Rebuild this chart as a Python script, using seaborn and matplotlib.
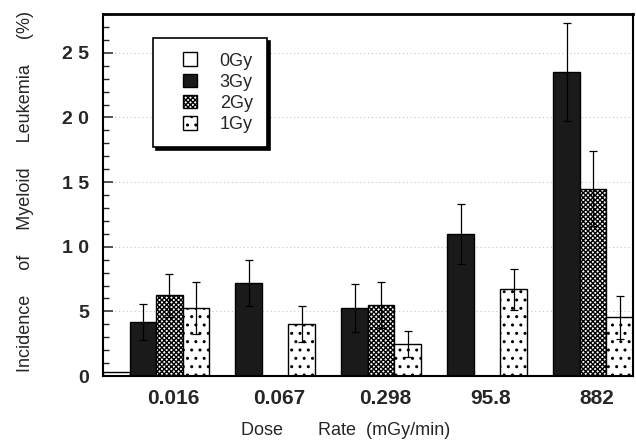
import numpy as np
import pandas as pd
import matplotlib
matplotlib.use("Agg")
import matplotlib.pyplot as plt
import seaborn as sns
from matplotlib.patches import Patch, Rectangle
from matplotlib.legend_handler import HandlerPatch
from matplotlib.ticker import MultipleLocator, FixedLocator

# Dose rate groups (mGy/min) and total dose levels
dose_rates = ["0.016", "0.067", "0.298", "95.8", "882"]
doses = ["0Gy", "3Gy", "2Gy", "1Gy"]

# Incidence of myeloid leukemia (%) per total dose, one value per dose rate
inc_0gy = [0.3, 0.0, 0.0, 0.0, 0.0]
inc_3gy = [4.2, 7.2, 5.25, 11.0, 23.5]
inc_2gy = [6.25, 0.0, 5.5, 0.0, 14.5]
inc_1gy = [5.25, 4.0, 2.5, 6.7, 4.55]

# Standard errors
err_0gy = [0.0, 0.0, 0.0, 0.0, 0.0]
err_3gy = [1.4, 1.75, 1.85, 2.3, 3.8]
err_2gy = [1.65, 0.0, 1.8, 0.0, 2.9]
err_1gy = [2.0, 1.4, 1.0, 1.6, 1.65]

y_ticks = [0, 5, 10, 15, 20, 25]
y_tick_labels = ["0", "5", "1 0", "1 5", "2 0", "2 5"]

values = {"0Gy": inc_0gy, "3Gy": inc_3gy, "2Gy": inc_2gy, "1Gy": inc_1gy}
errors = {"0Gy": err_0gy, "3Gy": err_3gy, "2Gy": err_2gy, "1Gy": err_1gy}

df = pd.DataFrame(
    [(r, d, values[d][i], errors[d][i])
     for d in doses for i, r in enumerate(dose_rates)],
    columns=["rate", "dose", "incidence", "err"],
)

sns.set_style("ticks")
plt.rcParams["font.family"] = ["Liberation Sans", "DejaVu Sans"]
plt.rcParams["hatch.linewidth"] = 1.0

face = {"0Gy": "white", "3Gy": "#1a1a1a", "2Gy": "white", "1Gy": "white"}
hatch = {"0Gy": None, "3Gy": None, "2Gy": "xxxxxxx", "1Gy": ".."}

fig = plt.figure(figsize=(6.36, 4.45), dpi=100)
ax = fig.add_axes([0.162, 0.155, 0.833, 0.8135])

sns.barplot(
    data=df, x="rate", y="incidence", hue="dose",
    order=dose_rates, hue_order=doses,
    palette=face, saturation=1, width=1.0, gap=0,
    edgecolor="black", linewidth=1.0, errorbar=None,
    legend=False, ax=ax,
)

# hatching and error bars per dose level
for cont, d in zip(ax.containers, doses):
    for bar, e in zip(cont, errors[d]):
        if hatch[d]:
            bar.set_hatch(hatch[d])
        bar.set_edgecolor("black")
        if e > 0:
            xc = bar.get_x() + bar.get_width() / 2
            ax.errorbar(xc, bar.get_height(), yerr=e, fmt="none",
                        ecolor="black", elinewidth=0.9, capsize=3,
                        capthick=0.9, zorder=4)

ax.set_xlim(-0.5, len(dose_rates) - 0.5)
ax.set_ylim(0, 28)

# axes styling
for sp in ax.spines.values():
    sp.set_visible(True)
    sp.set_linewidth(1.5)
    sp.set_color("black")
ax.spines["top"].set_linewidth(2.0)

ax.yaxis.set_major_locator(FixedLocator(y_ticks))
ax.set_yticklabels(y_tick_labels, fontsize=14, fontweight="bold")
ax.yaxis.set_minor_locator(MultipleLocator(1))
ax.tick_params(axis="y", which="major", direction="in", length=7, width=1.1, pad=10)
ax.tick_params(axis="y", which="minor", direction="in", length=4, width=1.0)

ax.set_xticks(np.arange(len(dose_rates)) + 0.16)
ax.set_xticklabels(dose_rates, fontsize=15, fontweight="bold")
ax.tick_params(axis="x", length=0, pad=9)

ax.yaxis.grid(True, which="major", linestyle=(0, (1, 2.5)), color="#c4c4c4", linewidth=0.8)
ax.set_axisbelow(True)

ax.set_ylabel("Incidence     of     Myeloid     Leukemia     (%)", fontsize=13)
ax.yaxis.set_label_coords(-0.13, 0.51)
ax.set_xlabel("Dose       Rate  (mGy/min)", fontsize=13)
ax.xaxis.set_label_coords(0.457, -0.128)


class SquareRight(HandlerPatch):
    """Square swatch placed at the right end of the handle box."""
    def create_artists(self, legend, orig_handle, xdescent, ydescent,
                       width, height, fontsize, trans):
        side = height
        p = Rectangle((width - side - xdescent, -ydescent), side, side,
                      facecolor=orig_handle.get_facecolor(),
                      edgecolor="black", hatch=orig_handle.get_hatch(),
                      linewidth=1.0, transform=trans)
        return [p]


handles = [Patch(facecolor=face[d], edgecolor="black", hatch=hatch[d], linewidth=1.0)
           for d in doses]
leg = ax.legend(handles, doses, loc="upper left", bbox_to_anchor=(0.094, 0.934),
                borderaxespad=0, fontsize=13, frameon=True, fancybox=False,
                shadow={"color": "black", "alpha": 1.0},
                handler_map={Patch: SquareRight()},
                handlelength=1.65, handleheight=0.8, handletextpad=1.25,
                borderpad=0.8, labelspacing=0.22)
leg.get_frame().set_edgecolor("black")
leg.get_frame().set_linewidth(1.2)

fig.savefig("out.png", dpi=100)
